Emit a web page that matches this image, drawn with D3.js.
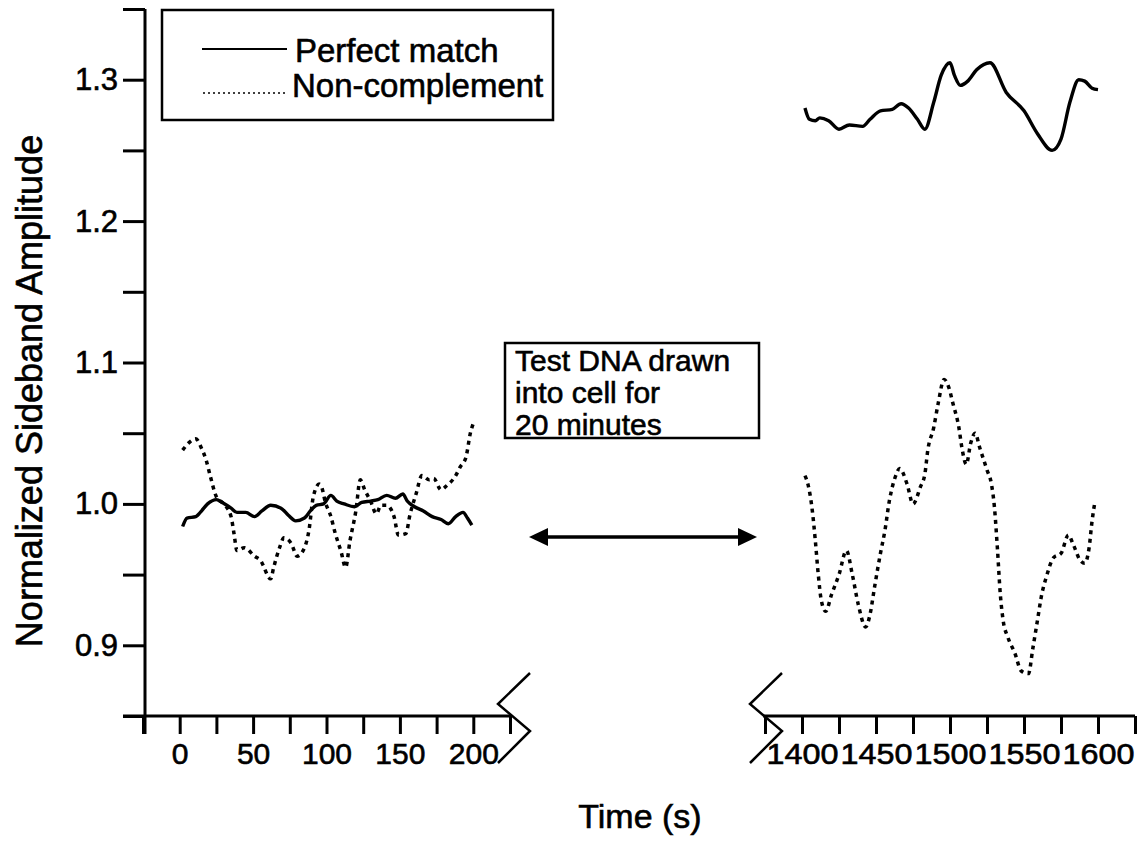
<!DOCTYPE html>
<html lang="en">
<head>
<meta charset="utf-8">
<title>Sideband amplitude</title>
<script src="https://cdn.jsdelivr.net/npm/d3@7"></script>
<style>
  body { margin: 0; background: #fff; }
  svg { display: block; font-family: "Liberation Sans", Arial, sans-serif; }
  text { fill: #000; stroke: #000; stroke-width: 0.6px; }
</style>
</head>
<body>
<script>
// data (time in s, normalized amplitude)
var perfectEarlyT = [2,5,11,14,19,25,29,35,39,45,51,56,62,69,74,79,85,89,93,98,103,107,112,119,124,130,135,141,147,152,155,160,166,172,178,183,188,193,196,199];
var perfectEarlyV = [0.984,0.990,0.991,0.994,1.000,1.003,1.001,0.997,0.994,0.994,0.991,0.995,0.999,0.997,0.992,0.988,0.990,0.995,0.999,1.000,1.006,1.002,1.000,0.998,1.001,1.002,1.003,1.006,1.004,1.007,1.002,0.998,0.995,0.991,0.989,0.986,0.991,0.994,0.990,0.985];

var nonCompEarlyT = [2,6,11,15,18,21,25,30,35,37,39,44,51,55,62,64,68,71,76,80,85,88,91,95,97,99,103,106,110,113,116,120,123,126,130,134,137,141,146,149,154,157,161,165,170,173,178,182,188,191,195,198,200];
var nonCompEarlyV = [1.038,1.043,1.046,1.039,1.031,1.019,1.005,1.000,0.991,0.979,0.967,0.969,0.963,0.960,0.947,0.955,0.969,0.976,0.972,0.963,0.969,0.981,1.005,1.014,1.011,1.002,0.991,0.979,0.966,0.955,0.974,0.995,1.017,1.010,1.002,0.993,0.999,0.999,0.991,0.978,0.979,0.993,1.007,1.020,1.017,1.018,1.010,1.013,1.020,1.026,1.033,1.050,1.057];

var perfectLateT = [1402,1405,1409,1412,1418,1425,1432,1441,1446,1453,1461,1467,1472,1478,1483,1489,1494,1500,1503,1507,1512,1518,1527,1538,1550,1559,1569,1575,1581,1587,1591,1596,1600];
var perfectLateV = [1.280,1.272,1.271,1.273,1.271,1.265,1.268,1.267,1.272,1.278,1.279,1.283,1.280,1.272,1.265,1.284,1.303,1.312,1.303,1.296,1.299,1.307,1.312,1.291,1.278,1.262,1.250,1.258,1.284,1.300,1.299,1.294,1.293];

var nonCompLateT = [1402,1404,1407,1409,1411,1413,1416,1420,1425,1430,1434,1438,1443,1446,1449,1453,1456,1459,1463,1466,1471,1475,1480,1483,1485,1489,1492,1496,1499,1502,1506,1508,1511,1514,1517,1520,1525,1528,1530,1532,1534,1536,1539,1544,1548,1553,1556,1559,1562,1565,1570,1575,1580,1583,1588,1591,1594,1596,1598];
var nonCompLateV = [1.020,1.014,0.995,0.974,0.950,0.932,0.924,0.936,0.950,0.967,0.950,0.929,0.913,0.922,0.941,0.965,0.981,1.002,1.019,1.025,1.014,1.000,1.012,1.021,1.038,1.054,1.071,1.088,1.083,1.071,1.054,1.040,1.028,1.043,1.050,1.040,1.024,1.014,0.998,0.969,0.936,0.917,0.906,0.894,0.882,0.880,0.898,0.917,0.936,0.948,0.962,0.965,0.978,0.972,0.960,0.958,0.969,0.988,1.002];

var yTicks = [0.85,0.9,0.95,1.0,1.05,1.1,1.15,1.2,1.25,1.3,1.35];
var yLabels = ["0.9","1.0","1.1","1.2","1.3"];
var xTicksEarly = [-25,0,25,50,75,100,125,150,175,200,225];
var xLabelsEarly = ["0","50","100","150","200"];
var xTicksLate = [1375,1400,1425,1450,1475,1500,1525,1550,1575,1600,1625];
var xLabelsLate = ["1400","1450","1500","1550","1600"];

var legendNames = ["Perfect match", "Non-complement"];
var noteLines = ["Test DNA drawn", "into cell for", "20 minutes"];

var width = 1146, height = 841;

var svg = d3.select("body").append("svg")
    .attr("width", width)
    .attr("height", height);

var y = d3.scaleLinear().domain([0.85, 1.35]).range([716, 9]);
var xEarly = d3.scaleLinear().domain([-25, 225]).range([143, 510]);
var xLate = d3.scaleLinear().domain([1375, 1625]).range([765, 1135]);

var axisY = 716;

// y axis
var yAxis = d3.axisLeft(y)
    .tickValues(yTicks)
    .tickSize(22)
    .tickPadding(5)
    .tickFormat(function(d) {
        var s = d.toFixed(1);
        return (Math.abs(d * 10 - Math.round(d * 10)) < 1e-6 && yLabels.indexOf(s) >= 0) ? s : "";
    });

var gy = svg.append("g").attr("transform", "translate(145,0)").call(yAxis);
gy.select(".domain").remove();
gy.selectAll(".tick line").attr("stroke", "#000").attr("stroke-width", 3);
gy.selectAll(".tick text").attr("font-size", 31).attr("fill", "#000")
    .attr("font-family", "Liberation Sans, Arial, sans-serif");
svg.append("line").attr("x1", 145).attr("x2", 145).attr("y1", y(1.35)).attr("y2", 734)
    .attr("stroke", "#000").attr("stroke-width", 3);

// x axes (broken)
function xAxisPart(scale, ticks, labels, stretch) {
    var ax = d3.axisBottom(scale)
        .tickValues(ticks)
        .tickSize(18)
        .tickPadding(9)
        .tickFormat(function(d) { return labels.indexOf(String(d)) >= 0 ? String(d) : ""; });
    var g = svg.append("g").attr("transform", "translate(0," + axisY + ")").call(ax);
    g.select(".domain").remove();
    g.selectAll(".tick line").attr("stroke", "#000").attr("stroke-width", 3);
    var t = g.selectAll(".tick text").attr("font-size", 30).attr("fill", "#000")
        .attr("font-family", "Liberation Sans, Arial, sans-serif");
    if (stretch) {
        t.filter(function(d) { return labels.indexOf(String(d)) >= 0; })
            .attr("textLength", stretch).attr("lengthAdjust", "spacingAndGlyphs");
    }
    return g;
}
xAxisPart(xEarly, xTicksEarly, xLabelsEarly, null);
xAxisPart(xLate, xTicksLate, xLabelsLate, 72);

svg.append("line").attr("x1", 123).attr("x2", 512).attr("y1", axisY).attr("y2", axisY)
    .attr("stroke", "#000").attr("stroke-width", 3);
svg.append("line").attr("x1", 763).attr("x2", xLate(1625)).attr("y1", axisY).attr("y2", axisY)
    .attr("stroke", "#000").attr("stroke-width", 3);

// zigzag break marks
function breakMark(cx) {
    var p = d3.path();
    p.moveTo(cx + 18, axisY - 43);
    p.lineTo(cx - 14, axisY - 12);
    p.lineTo(cx + 18, axisY + 15);
    p.lineTo(cx - 14, axisY + 47);
    svg.append("path").attr("d", p.toString()).attr("fill", "none")
        .attr("stroke", "#000").attr("stroke-width", 2.5);
}
breakMark(512);
breakMark(764);

// axis titles
svg.append("text").attr("x", 640).attr("y", 828).attr("text-anchor", "middle")
    .attr("font-size", 34).text("Time (s)");
svg.append("text").attr("transform", "translate(42,391) rotate(-90)")
    .attr("text-anchor", "middle").attr("font-size", 36).text("Normalized Sideband Amplitude");

// series
function drawSeries(scale, ts, vs, dashed) {
    var pts = ts.map(function(t, i) { return [t, vs[i]]; });
    var line = d3.line()
        .x(function(d) { return scale(d[0]); })
        .y(function(d) { return y(d[1]); })
        .curve(d3.curveMonotoneX);
    svg.append("path").datum(pts)
        .attr("d", line)
        .attr("fill", "none")
        .attr("stroke", "#000")
        .attr("stroke-width", dashed ? 3.5 : 3.4)
        .attr("stroke-linejoin", "round")
        .attr("stroke-dasharray", dashed ? "4,4.5" : null);
}
drawSeries(xEarly, perfectEarlyT, perfectEarlyV, false);
drawSeries(xEarly, nonCompEarlyT, nonCompEarlyV, true);
drawSeries(xLate, perfectLateT, perfectLateV, false);
drawSeries(xLate, nonCompLateT, nonCompLateV, true);

// legend
var legend = svg.append("g");
legend.append("rect").attr("x", 162).attr("y", 10).attr("width", 391).attr("height", 110)
    .attr("fill", "#fff").attr("stroke", "#000").attr("stroke-width", 2.5);
legend.append("line").attr("x1", 202).attr("x2", 287).attr("y1", 49).attr("y2", 49)
    .attr("stroke", "#000").attr("stroke-width", 2);
legend.append("line").attr("x1", 203).attr("x2", 288).attr("y1", 93).attr("y2", 93)
    .attr("stroke", "#000").attr("stroke-width", 1.6).attr("stroke-dasharray", "2,3");
legend.append("text").attr("x", 295).attr("y", 62).attr("font-size", 33).text(legendNames[0]);
legend.append("text").attr("x", 292).attr("y", 97).attr("font-size", 33).text(legendNames[1]);

// annotation box + arrow
var note = svg.append("g");
note.append("rect").attr("x", 505).attr("y", 343).attr("width", 254).attr("height", 95)
    .attr("fill", "#fff").attr("stroke", "#000").attr("stroke-width", 2.5);
note.selectAll("text.note").data(noteLines).enter().append("text")
    .attr("class", "note")
    .attr("x", 515)
    .attr("y", function(d, i) { return 371 + i * 32; })
    .attr("font-size", 30)
    .text(function(d) { return d; });

var ay = 537;
svg.append("line").attr("x1", 540).attr("x2", 746).attr("y1", ay).attr("y2", ay)
    .attr("stroke", "#000").attr("stroke-width", 3.5);
svg.append("path").attr("d", "M529," + ay + "L548," + (ay - 9) + "L548," + (ay + 9) + "Z").attr("fill", "#000");
svg.append("path").attr("d", "M757," + ay + "L738," + (ay - 9) + "L738," + (ay + 9) + "Z").attr("fill", "#000");
</script>
</body>
</html>
